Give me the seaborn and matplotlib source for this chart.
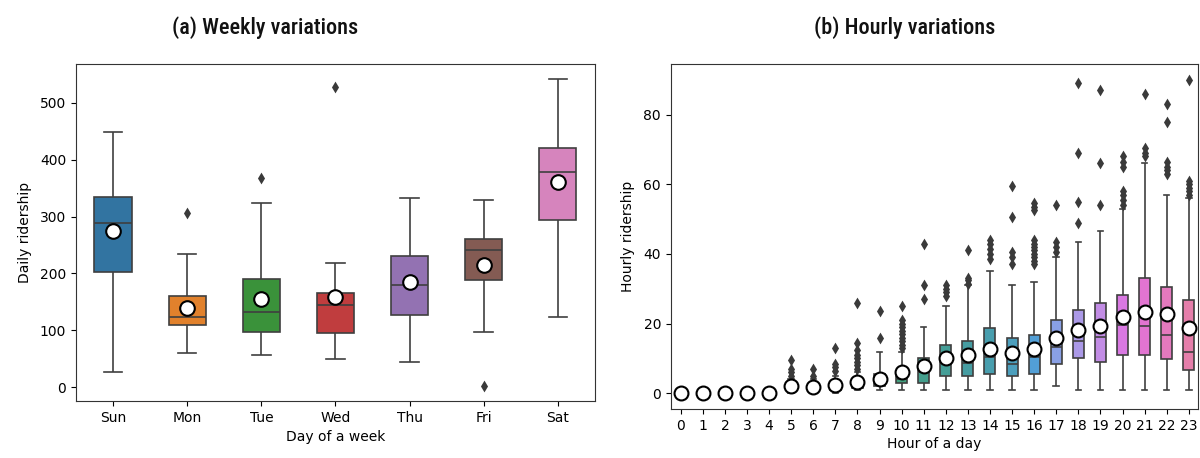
import matplotlib
matplotlib.use("Agg")
import matplotlib.pyplot as plt
import pandas as pd
import seaborn as sns

# ---- weekly ridership (box summaries per weekday) ----
days = ["Sun", "Mon", "Tue", "Wed", "Thu", "Fri", "Sat"]
day_low = [27, 60, 57, 50, 44, 98, 123]
day_q1 = [202, 109, 98, 95, 127, 188, 294]
day_median = [288, 123, 132, 144, 179, 242, 378]
day_q3 = [334, 160, 191, 165, 231, 260, 420]
day_high = [449, 234, 323, 218, 332, 329, 541]
day_mean = [274, 139, 155, 158, 185, 215, 361]
day_outliers = {"Mon": [306], "Tue": [367], "Wed": [527], "Fri": [3]}

# ---- hourly ridership (box summaries per hour) ----
hours = ["0", "1", "2", "3", "4", "5", "6", "7", "8", "9", "10", "11",
         "12", "13", "14", "15", "16", "17", "18", "19", "20", "21", "22", "23"]
hour_low = [0, 0, 0, 0, 0, 0, 0, 0, 1, 1, 1, 1,
            1, 1, 1, 1, 1, 2, 1, 1, 1, 1, 1, 1]
hour_q1 = [0, 0, 0, 0, 0, 1, 1, 1, 1.5, 2, 3, 3,
           5, 5, 5.5, 5, 5.5, 8.3, 10, 9, 11, 11, 9.9, 6.7]
hour_median = [0, 0, 0, 0, 0, 2, 1, 2, 2.5, 3, 4, 6,
               9, 8.6, 10.5, 8.4, 10.5, 13.4, 15, 16.3, 19.6, 19.2, 16.8, 11.8]
hour_q3 = [0, 0, 0, 0, 0, 3, 2, 3, 4, 5.5, 5.5, 10,
           14, 15, 18.7, 16, 16.8, 21, 24, 26, 28.3, 33, 30.4, 26.8]
hour_high = [0, 0, 0, 0, 0, 4, 4, 5, 6, 12, 12, 19,
             25, 31, 35, 31, 32, 39, 43.3, 46.7, 53, 66, 57, 56]
hour_mean = [0, 0, 0, 0, 0, 2.1, 1.8, 2.3, 3.2, 4.2, 6, 7.7,
             10, 11, 12.6, 11.7, 12.6, 15.8, 18.2, 19.2, 21.8, 23.2, 22.7, 18.7]
hour_outliers = {
    "5": [5, 6, 7, 9.5],
    "6": [5, 7],
    "7": [6.5, 7.5, 8.5, 13],
    "8": [7, 8, 9, 10, 11, 12.5, 14.5, 26],
    "9": [16, 23.5],
    "10": [13, 14, 15, 16, 17, 18, 19, 20, 21, 25],
    "11": [27, 31, 43],
    "12": [28, 29, 30, 31],
    "13": [31.5, 32.5, 33, 41],
    "14": [38.5, 40, 41.5, 43, 44],
    "15": [37, 39, 40.5, 50.5, 59.5],
    "16": [37, 38, 39, 40, 41, 42, 43, 44, 52.5, 53.5, 54.5],
    "17": [40.5, 42, 43.5, 54],
    "18": [49, 55, 69, 89],
    "19": [54, 66, 87],
    "20": [54, 55.5, 57, 58, 65, 66.5, 68],
    "21": [68, 69, 70.5, 86],
    "22": [63, 64, 65, 66.5, 78, 83],
    "23": [57, 58, 59, 60, 61, 90],
}


def summary_frame(cats, low, q1, med, q3, high):
    rows = []
    for c, *vals in zip(cats, low, q1, med, q3, high):
        rows += [(c, v) for v in vals]
    return pd.DataFrame(rows, columns=["cat", "value"])


def outlier_frame(outliers):
    rows = [(c, v) for c, vals in outliers.items() for v in vals]
    return pd.DataFrame(rows, columns=["cat", "value"])


def draw_panel(ax, cats, low, q1, med, q3, high, mean, outliers, palette,
               mean_size, flier_size):
    box_df = summary_frame(cats, low, q1, med, q3, high)
    sns.boxplot(data=box_df, x="cat", y="value", hue="cat", order=cats,
                hue_order=cats, palette=palette, whis=(0, 100), width=0.5,
                showfliers=False, linecolor="#3f3f3f", linewidth=1.2,
                legend=False, ax=ax)
    sns.stripplot(data=outlier_frame(outliers), x="cat", y="value",
                  order=cats, jitter=False, marker="d", size=flier_size,
                  color="#3a3a3a", ax=ax)
    mean_df = pd.DataFrame({"cat": cats, "value": mean})
    sns.stripplot(data=mean_df, x="cat", y="value", order=cats, jitter=False,
                  marker="o", size=mean_size, color="white",
                  edgecolor="black", linewidth=1.5, zorder=5, ax=ax)
    for s in ax.spines.values():
        s.set_color("#333333")


fig = plt.figure(figsize=(12, 4.58), dpi=100)
ax1 = fig.add_axes([0.0633, 0.1245, 0.4325, 0.7358])
ax2 = fig.add_axes([0.559, 0.107, 0.439, 0.753])

draw_panel(ax1, days, day_low, day_q1, day_median, day_q3, day_high,
           day_mean, day_outliers, "tab10", mean_size=10.5, flier_size=6)
ax1.set_xlabel("Day of a week")
ax1.set_ylabel("Daily ridership", labelpad=6)
ax1.set_yticks([0, 100, 200, 300, 400, 500])

draw_panel(ax2, hours, hour_low, hour_q1, hour_median, hour_q3, hour_high,
           hour_mean, hour_outliers, sns.color_palette("husl", 24),
           mean_size=10, flier_size=6)
ax2.set_xlabel("Hour of a day", labelpad=3)
ax2.set_ylabel("Hourly ridership", labelpad=6)
ax2.set_yticks([0, 20, 40, 60, 80])
ax2.set_xlim(-0.45, 23.4)

title_font = ["Roboto Condensed", "DejaVu Sans"]
for x, label in [(265, "(a) Weekly variations"), (905, "(b) Hourly variations")]:
    fig.text(x / 1200, 1 - 28 / 458, label, family=title_font,
             fontstretch="condensed", fontweight="medium", fontsize=16,
             ha="center", va="center", color="#111111")

fig.savefig("out.png", dpi=100)
